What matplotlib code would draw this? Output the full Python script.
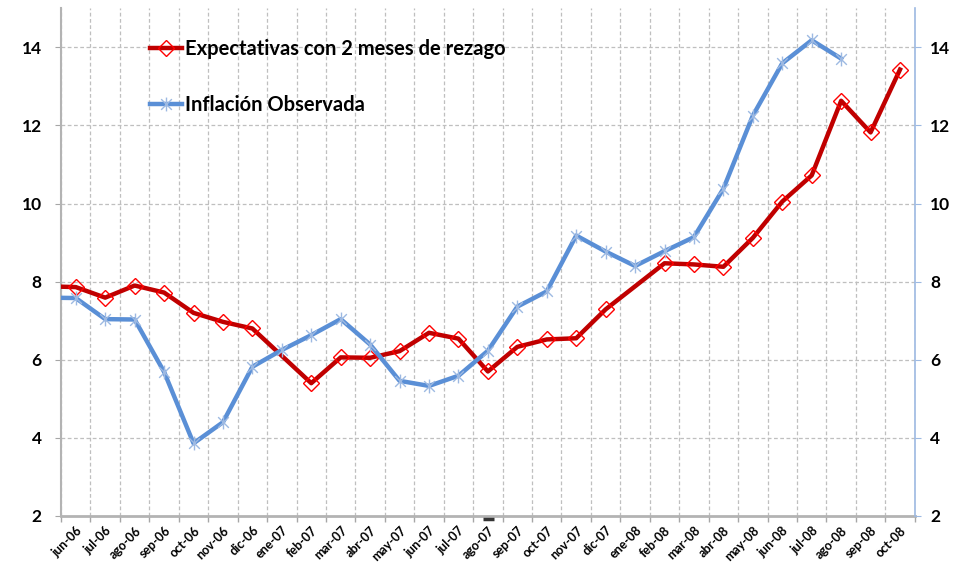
import matplotlib.pyplot as plt
from matplotlib.path import Path
import numpy as np

# meses (may-06 solo sirve para que la linea arranque en el borde izquierdo)
meses = ['jun-06', 'jul-06', 'ago-06', 'sep-06', 'oct-06', 'nov-06', 'dic-06',
         'ene-07', 'feb-07', 'mar-07', 'abr-07', 'may-07', 'jun-07', 'jul-07',
         'ago-07', 'sep-07', 'oct-07', 'nov-07', 'dic-07', 'ene-08', 'feb-08',
         'mar-08', 'abr-08', 'may-08', 'jun-08', 'jul-08', 'ago-08', 'sep-08', 'oct-08']

expect_prev = 7.88
inflacion_prev = 7.59

expectativas = [7.86, 7.59, 7.90, 7.72, 7.20, 6.97, 6.80,
                None, 5.40, 6.06, 6.05, 6.22, 6.69, 6.54,
                5.70, 6.33, 6.52, 6.55, 7.29, None, 8.47,
                8.44, 8.38, 9.12, 10.05, 10.72, 12.63, 11.82, 13.43]

inflacion = [7.58, 7.04, 7.03, 5.69, 3.86, 4.40, 5.82,
             6.25, 6.63, 7.04, 6.39, 5.46, 5.33, 5.59,
             6.23, 7.36, 7.75, 9.18, 8.77, 8.40, 8.78,
             9.14, 10.38, 12.25, 13.59, 14.18, 13.71, None, None]

y_ticks = [2, 4, 6, 8, 10, 12, 14]

RED = '#C00000'
RED_MK = '#FF0000'
BLUE = '#5A8FD6'
BLUE_MK = '#9DB9E2'
GRID = '#BFBFBF'

plt.rcParams['font.family'] = ['Lato', 'DejaVu Sans']


def serie(prev, vals):
    # junta el punto previo con los validos
    x = [-1] + [i for i, v in enumerate(vals) if v is not None]
    y = [prev] + [v for v in vals if v is not None]
    return np.array(x), np.array(y)


# asterisco estilo excel: x + linea vertical
asterisco = Path([(-1, -1), (1, 1), (-1, 1), (1, -1), (0, -1.3), (0, 1.3)],
                 [Path.MOVETO, Path.LINETO, Path.MOVETO, Path.LINETO, Path.MOVETO, Path.LINETO])

fig = plt.figure(figsize=(9.69, 5.87), dpi=100)
ax = fig.add_axes([0.063, 0.121, 0.881, 0.865])

xr, yr = serie(expect_prev, expectativas)
xb, yb = serie(inflacion_prev, inflacion)

ax.plot(xr, yr, color=RED, lw=3.2, marker='D', markersize=8,
        markerfacecolor='none', markeredgecolor=RED_MK, markeredgewidth=1.0,
        label='Expectativas con 2 meses de rezago', zorder=3)
ax.plot(xb, yb, color=BLUE, lw=3.2, marker=asterisco, markersize=10,
        markerfacecolor='none', markeredgecolor=BLUE_MK, markeredgewidth=1.0,
        label='Inflación Observada', zorder=4)

ax.set_xlim(-0.5, len(meses) - 0.5)
ax.set_ylim(2, 15)

# grid
for k in range(len(meses) + 1):
    ax.axvline(k - 0.5, color=GRID, lw=0.9, ls=(0, (3, 2)), zorder=1)
for t in y_ticks[1:]:
    ax.axhline(t, color=GRID, lw=0.9, ls=(0, (3, 2)), zorder=1)

# eje x
ax.set_xticks(np.arange(len(meses) + 1) - 0.5)
ax.set_xticklabels([])
ax.set_xticks(np.arange(len(meses)), minor=True)
ax.set_xticklabels(meses, minor=True, rotation=45, ha='right',
                   rotation_mode='anchor', fontsize=9, fontweight='bold')
ax.tick_params(axis='x', which='major', length=4, color='#A6A6A6', width=1)
ax.tick_params(axis='x', which='minor', length=0, pad=6)

ax.set_yticks(y_ticks)
ax.set_yticklabels([str(t) for t in y_ticks], fontsize=12.5, fontweight='bold')
ax.tick_params(axis='y', length=4, color='#A6A6A6', pad=10)

for s in ['top', 'right']:
    ax.spines[s].set_visible(False)
ax.spines['left'].set_color('#B3B3B3')
ax.spines['left'].set_linewidth(1.5)
ax.spines['bottom'].set_color('#B3B3B3')
ax.spines['bottom'].set_linewidth(2)

# eje derecho
ax2 = ax.twinx()
ax2.set_ylim(2, 15)
ax2.set_yticks(y_ticks)
ax2.set_yticklabels([str(t) for t in y_ticks], fontsize=12.5, fontweight='bold')
ax2.tick_params(axis='y', length=4, color='#9DB9E2', pad=7)
for s in ['top', 'left', 'bottom']:
    ax2.spines[s].set_visible(False)
ax2.spines['right'].set_color('#9DB9E2')
ax2.spines['right'].set_linewidth(1.2)

# marca negra debajo del eje
ax.plot([13.83, 14.2], [1.93, 1.93], color='#333333', lw=2.5,
        clip_on=False, zorder=5, solid_capstyle='butt')

leg = ax.legend(loc='upper left', bbox_to_anchor=(0.083, 0.975), frameon=False,
                handlelength=1.6, handletextpad=0.15, labelspacing=1.8,
                numpoints=1, prop={'weight': 'bold', 'size': 14.5})

fig.savefig('out.png', dpi=100)
